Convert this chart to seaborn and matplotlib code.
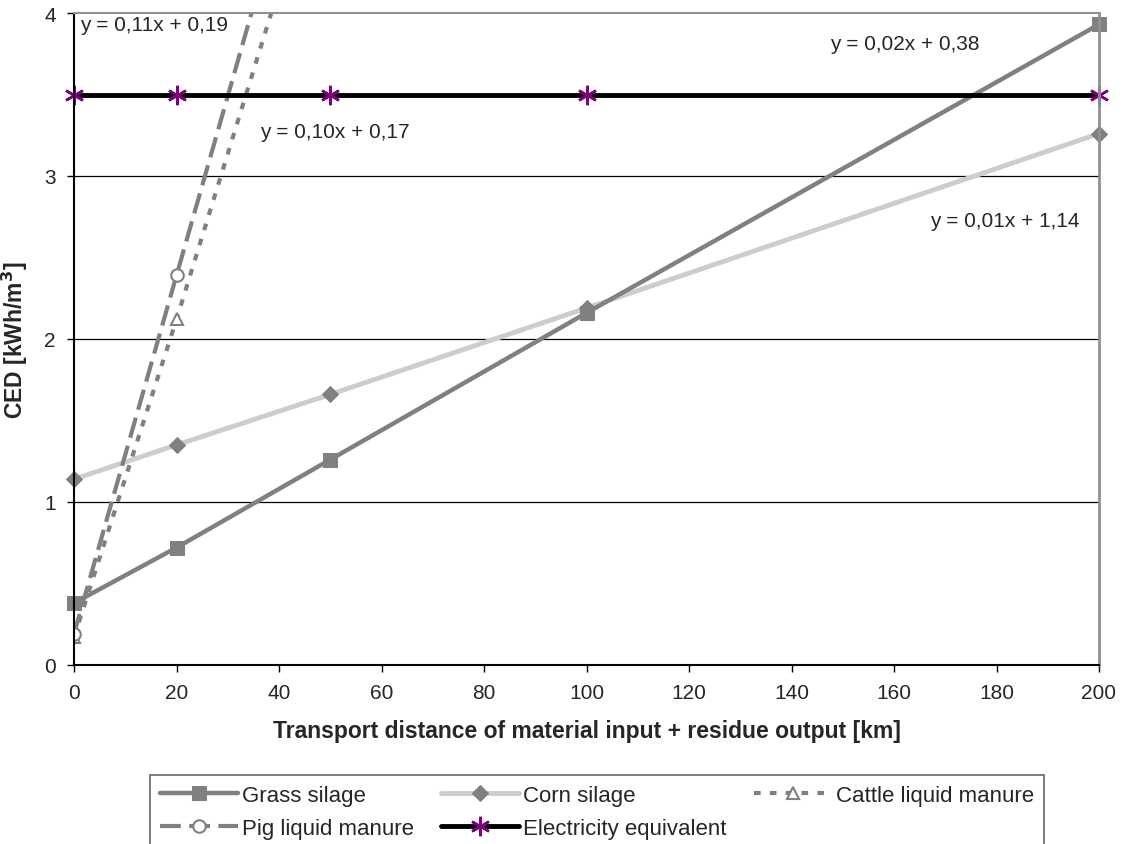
import pandas as pd
import seaborn as sns
import matplotlib.pyplot as plt

# transport distance [km]
distance = [0, 20, 50, 100, 200]

# CED [kWh/m3] per substrate
grass_silage = [0.38, 0.72, 1.26, 2.16, 3.93]
corn_silage = [1.14, 1.35, 1.66, 2.19, 3.26]
cattle_manure = [0.17, 2.12, 5.17, 10.17, 20.17]
pig_manure = [0.19, 2.39, 5.69, 11.19, 22.19]
electricity = [3.5, 3.5, 3.5, 3.5, 3.5]

trend_labels = ["y = 0,11x + 0,19", "y = 0,10x + 0,17", "y = 0,02x + 0,38", "y = 0,01x + 1,14"]
trend_pos = [(1.2, 3.93), (36.2, 3.27), (147.6, 3.81), (167.0, 2.73)]

sns.set_style("white")
plt.rcParams['font.family'] = ['Liberation Sans', 'DejaVu Sans']

df = pd.DataFrame({
    "distance": distance,
    "grass": grass_silage,
    "corn": corn_silage,
    "cattle": cattle_manure,
    "pig": pig_manure,
    "elec": electricity,
})

fig = plt.figure(figsize=(11.26, 8.45), dpi=100)
ax = fig.add_axes([74 / 1126, 1 - 666 / 845, 1025 / 1126, 652 / 845])

gray = "#808080"
sns.lineplot(data=df, x="distance", y="corn", ax=ax, color="#cdcdcd", linewidth=3.5,
             marker="D", markersize=8, markerfacecolor=gray, markeredgecolor=gray,
             label="Corn silage", sort=False, clip_on=False)
sns.lineplot(data=df, x="distance", y="grass", ax=ax, color=gray, linewidth=3.2,
             marker="s", markersize=10, markerfacecolor=gray, markeredgecolor=gray,
             label="Grass silage", sort=False, clip_on=False)
sns.lineplot(data=df, x="distance", y="cattle", ax=ax, color=gray, linewidth=3,
             linestyle=(0, (1.6, 2.2)), marker="^", markersize=9, markerfacecolor="white",
             markeredgecolor=gray, markeredgewidth=1.5, label="Cattle liquid manure", sort=False)
sns.lineplot(data=df, x="distance", y="pig", ax=ax, color=gray, linewidth=3,
             linestyle=(0, (5, 2)), marker="o", markersize=9, markerfacecolor="white",
             markeredgecolor=gray, markeredgewidth=1.5, label="Pig liquid manure", sort=False)
sns.lineplot(data=df, x="distance", y="elec", ax=ax, color="black", linewidth=3.5,
             marker=(6, 2, 0), markersize=14, markeredgecolor="#800080",
             markeredgewidth=1.8, label="Electricity equivalent", sort=False, clip_on=False)

for txt, (tx, ty) in zip(trend_labels, trend_pos):
    ax.text(tx, ty, txt, fontsize=15, ha="left", va="center")

ax.set_xlim(0, 200)
ax.set_ylim(0, 4)
ax.set_xticks(range(0, 201, 20))
ax.set_yticks([0, 1, 2, 3, 4])
ax.grid(False)
for yv in [1, 2, 3]:
    ax.axhline(yv, color="black", linewidth=0.9, zorder=0)

ax.tick_params(axis="both", direction="out", length=5, width=1, color="black",
               labelsize=15, pad=8, bottom=True, left=True)
ax.spines["left"].set_color("black")
ax.spines["bottom"].set_color("black")
ax.spines["left"].set_linewidth(1.5)
ax.spines["bottom"].set_linewidth(1.5)
ax.spines["top"].set_color("#909090")
ax.spines["right"].set_color("#909090")
ax.spines["top"].set_linewidth(1.5)
ax.spines["right"].set_linewidth(2)

ax.set_xlabel("Transport distance of material input + residue output [km]",
              fontsize=16.5, fontweight="bold", labelpad=12)
ax.set_ylabel("CED [kWh/m$^\\mathbf{3}$]", fontsize=16.5, fontweight="bold", labelpad=10)

handles, labels = ax.get_legend_handles_labels()
ax.get_legend().remove()
hmap = dict(zip(labels, handles))
order = ["Grass silage", "Pig liquid manure", "Corn silage", "Electricity equivalent",
         "Cattle liquid manure"]
leg = fig.legend([hmap[k] for k in order], order, ncol=3, loc="upper left",
                 bbox_to_anchor=(150 / 1126, 0, 894 / 1126, 1 - 776 / 845), mode="expand",
                 fontsize=16, frameon=True, fancybox=False, edgecolor="#404040",
                 handlelength=3.5, handletextpad=0.2, borderpad=0.45, labelspacing=0.55,
                 borderaxespad=0)
leg.get_frame().set_linewidth(1.2)

fig.savefig("out.png", dpi=100)
